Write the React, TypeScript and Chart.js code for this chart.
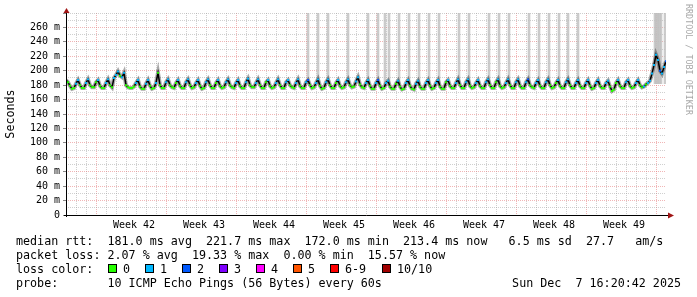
import React, { useEffect, useRef } from "react";
import { Chart, registerables } from "chart.js";

Chart.register(...registerables);

// ---- data ----
// median RTT in ms, one sample every 0.2 day (5 per day), day 0 .. day 60
const MEDIAN_MS: number[] = [
  187, 184, 179, 175, 176, 182, 187, 180, 176, 176, 183, 188, 180, 177, 177, 184, 187, 179, 176, 176,
  183, 188, 180, 177, 190, 194, 199, 193, 191, 197, 180, 177, 176, 176, 178, 183, 187, 178, 175, 175,
  182, 187, 179, 175, 176, 183, 197, 180, 176, 176, 184, 188, 180, 177, 176, 183, 187, 179, 176, 176,
  184, 188, 180, 176, 177, 183, 187, 179, 175, 176, 184, 188, 180, 176, 176, 183, 187, 179, 176, 177,
  184, 188, 180, 177, 176, 183, 187, 179, 176, 176, 184, 189, 180, 177, 177, 183, 188, 180, 176, 176,
  184, 187, 179, 176, 177, 183, 188, 180, 176, 176, 184, 187, 180, 177, 176, 183, 188, 179, 176, 176,
  184, 187, 180, 176, 177, 183, 188, 179, 175, 176, 184, 188, 180, 176, 176, 183, 187, 179, 176, 177,
  184, 188, 180, 177, 178, 185, 191, 181, 177, 176, 183, 187, 179, 175, 175, 183, 187, 179, 175, 176,
  183, 186, 178, 175, 175, 182, 186, 178, 174, 175, 183, 187, 179, 175, 174, 182, 186, 178, 175, 175,
  183, 187, 179, 175, 176, 183, 187, 178, 175, 175, 184, 187, 179, 176, 176, 183, 188, 180, 176, 176,
  184, 188, 179, 176, 177, 183, 187, 179, 176, 176, 184, 188, 180, 176, 176, 184, 188, 179, 176, 177,
  183, 188, 180, 176, 176, 184, 188, 179, 176, 176, 184, 188, 180, 177, 176, 183, 187, 179, 176, 176,
  184, 188, 180, 176, 177, 183, 187, 179, 176, 176, 184, 188, 180, 176, 176, 183, 187, 179, 176, 176,
  183, 187, 179, 175, 176, 183, 187, 179, 176, 176, 183, 186, 178, 172, 174, 183, 187, 179, 176, 176,
  184, 187, 179, 176, 177, 183, 187, 180, 177, 178, 181, 183, 186, 196, 208, 222, 215, 200, 196, 205,
  213,
];

// pings lost (of 10) for each median sample
const LOSS: number[] = [
  1, 0, 0, 0, 0, 1, 1, 0, 0, 0, 1, 1, 0, 0, 0, 0, 1, 0, 0, 0,
  1, 1, 0, 0, 1, 1, 1, 0, 1, 1, 0, 0, 0, 0, 0, 1, 1, 0, 0, 0,
  1, 1, 0, 0, 0, 1, 0, 0, 0, 0, 1, 1, 0, 0, 0, 0, 1, 0, 0, 0,
  1, 1, 0, 0, 0, 1, 1, 0, 0, 0, 1, 1, 0, 0, 0, 0, 1, 0, 0, 0,
  1, 1, 0, 0, 0, 1, 1, 0, 0, 0, 1, 1, 0, 0, 0, 1, 1, 0, 0, 0,
  0, 1, 0, 0, 0, 1, 1, 0, 0, 0, 1, 1, 0, 0, 0, 1, 1, 0, 0, 0,
  1, 2, 0, 0, 0, 1, 1, 0, 0, 0, 1, 1, 0, 0, 0, 0, 1, 0, 0, 0,
  1, 1, 0, 0, 0, 1, 1, 0, 0, 0, 1, 1, 0, 0, 0, 1, 2, 0, 0, 0,
  1, 1, 0, 0, 0, 0, 1, 0, 0, 0, 1, 1, 0, 0, 0, 1, 1, 0, 0, 0,
  1, 1, 0, 0, 0, 1, 1, 0, 0, 0, 0, 1, 0, 0, 0, 1, 1, 0, 0, 0,
  1, 1, 0, 0, 0, 1, 1, 0, 0, 0, 1, 1, 0, 0, 0, 0, 1, 0, 0, 0,
  1, 1, 0, 0, 0, 1, 1, 0, 0, 0, 1, 2, 0, 0, 0, 1, 1, 0, 0, 0,
  1, 1, 0, 0, 0, 0, 1, 0, 0, 0, 1, 1, 0, 0, 0, 1, 1, 0, 0, 0,
  1, 1, 0, 0, 0, 1, 1, 0, 0, 0, 1, 1, 0, 0, 0, 0, 1, 0, 0, 0,
  1, 1, 0, 0, 0, 1, 1, 0, 0, 1, 0, 1, 1, 1, 1, 1, 1, 2, 1, 1,
  2,
];

const SAMPLE_DAYS = 0.2;
const RANGE_DAYS = 60;

// days at which the max ping ran off the top of the chart
const SPIKE_DAYS: number[] = [
  24.2, 25.2, 26.2, 28.2, 30.2, 31.2, 31.9, 32.3, 33.3, 34.3, 35.3, 36.3, 37.3, 39.3, 40.3,
  42.3, 43.3, 44.3, 46.3, 47.3, 48.3, 49.3, 50.2, 51.2, 58.9, 59.05, 59.2, 59.35, 59.5, 59.9,
];
const SPIKE_FROM_MS = 182;

const Y_MAX_MS = 280;
const WEEK_LABELS = ["Week 42", "Week 43", "Week 44", "Week 45", "Week 46", "Week 47", "Week 48", "Week 49"];
const FIRST_DAY_LINE = 0.3; // first midnight after the left edge (days)
const FIRST_WEEK_LINE = 3.3; // first week boundary (days)

const LOSS_COLORS = ["#26ff00", "#00b8ff", "#0059ff", "#7e00ff", "#ff00ff", "#ff5500", "#ff0000", "#a10000"];
const LOSS_LABELS = ["0", "1", "2", "3", "4", "5", "6-9", "10/10"];

const RTT_LINE = "median rtt:  181.0 ms avg  221.7 ms max  172.0 ms min  213.4 ms now   6.5 ms sd  27.7   am/s";
const LOSS_LINE = "packet loss: 2.07 % avg  19.33 % max  0.00 % min  15.57 % now";
const COLOR_LINE = "loss color:";
const PROBE_LINE = "probe:       10 ICMP Echo Pings (56 Bytes) every 60s";
const DATE_TEXT = "Sun Dec  7 16:20:42 2025";
const Y_TITLE = "Seconds";
const WATERMARK = "RRDTOOL / TOBI OETIKER";

// ---- layout / style ----
const W = 697;
const H = 297;
const MONO = '"DejaVu Sans Mono", "Liberation Mono", monospace';
const MAJOR_GRID = "rgba(228,110,110,0.5)";
const MINOR_GRID = "rgba(150,150,150,0.45)";
const NONE = "rgba(0,0,0,0)";
const FLAT_MS = 2; // a median step this small is drawn as a coloured dash

const isInt = (v: number) => Math.abs(v - Math.round(v)) < 1e-6;
const tickVal = (c: any): number | undefined => (c && c.tick ? c.tick.value : undefined);

const decorPlugin = {
  id: "decor",
  beforeDraw(chart: any) {
    const ctx = chart.ctx;
    ctx.save();
    ctx.fillStyle = "#ffffff";
    ctx.fillRect(0, 0, chart.width, chart.height);
    ctx.restore();
  },
  afterDraw(chart: any) {
    const ctx: CanvasRenderingContext2D = chart.ctx;
    const { left, right, top, bottom } = chart.chartArea;
    ctx.save();
    // axes
    ctx.strokeStyle = "#000";
    ctx.lineWidth = 1;
    ctx.beginPath();
    ctx.moveTo(left + 0.5, bottom + 2);
    ctx.lineTo(left + 0.5, top);
    ctx.stroke();
    ctx.beginPath();
    ctx.moveTo(left - 2, bottom + 0.5);
    ctx.lineTo(right + 3, bottom + 0.5);
    ctx.stroke();
    // arrows
    ctx.fillStyle = "#a01515";
    ctx.beginPath();
    ctx.moveTo(left + 0.5, top - 5);
    ctx.lineTo(left - 2.5, top);
    ctx.lineTo(left + 3.5, top);
    ctx.closePath();
    ctx.fill();
    ctx.beginPath();
    ctx.moveTo(right + 8, bottom + 0.5);
    ctx.lineTo(right + 2, bottom - 2.5);
    ctx.lineTo(right + 2, bottom + 3.5);
    ctx.closePath();
    ctx.fill();

    // y title
    ctx.fillStyle = "#000";
    ctx.font = `11.7px ${MONO}`;
    ctx.save();
    ctx.translate(11, 114);
    ctx.rotate(-Math.PI / 2);
    ctx.textAlign = "center";
    ctx.textBaseline = "middle";
    ctx.fillText(Y_TITLE, 0, 0);
    ctx.restore();

    // watermark
    ctx.save();
    ctx.fillStyle = "#a8a8a8";
    ctx.font = `8.4px ${MONO}`;
    ctx.translate(688, 4);
    ctx.rotate(Math.PI / 2);
    ctx.textAlign = "left";
    ctx.textBaseline = "middle";
    ctx.fillText(WATERMARK, 0, 0);
    ctx.restore();

    // legend
    ctx.fillStyle = "#000";
    ctx.textAlign = "left";
    ctx.textBaseline = "alphabetic";
    ctx.font = `11.7px ${MONO}`;
    ctx.fillText(RTT_LINE, 16, 245);
    ctx.fillText(LOSS_LINE, 16, 259);
    ctx.fillText(COLOR_LINE, 16, 273);
    const boxX = [108, 145, 182, 219, 256, 293, 330, 382];
    LOSS_COLORS.forEach((c, i) => {
      const x = boxX[i];
      ctx.fillStyle = c;
      ctx.fillRect(x, 264, 9, 9);
      ctx.strokeStyle = "#000";
      ctx.lineWidth = 1;
      ctx.strokeRect(x + 0.5, 264.5, 8, 8);
      ctx.fillStyle = "#000";
      ctx.fillText(LOSS_LABELS[i], x + 15, 273);
    });
    ctx.fillText(PROBE_LINE, 16, 287);
    ctx.textAlign = "right";
    ctx.fillText(DATE_TEXT, 681, 287);
    ctx.restore();
  },
};

export default function App() {
  const ref = useRef<HTMLCanvasElement>(null);

  useEffect(() => {
    document.body.style.margin = "0";
    const canvas = ref.current!;
    const points = MEDIAN_MS.map((v, i) => ({ x: i * SAMPLE_DAYS, y: v }));
    const spikes = SPIKE_DAYS.map((d) => ({ x: d, y: [SPIKE_FROM_MS, Y_MAX_MS] }));

    const xTicks: number[] = [];
    for (let v = FIRST_DAY_LINE; v < RANGE_DAYS; v += 0.5) xTicks.push(Math.round(v * 10) / 10);
    const yTicks: number[] = [];
    for (let v = 0; v <= Y_MAX_MS; v += 10) yTicks.push(v);

    const lossColor = (l: number) => LOSS_COLORS[Math.min(l, LOSS_COLORS.length - 1)];

    const chart = new Chart(canvas, {
      type: "line",
      data: {
        datasets: [
          {
            type: "bar",
            data: spikes as any,
            backgroundColor: "rgba(190,190,190,0.8)",
            barThickness: 2,
            order: 4,
          } as any,
          {
            type: "line",
            data: points,
            borderColor: "rgba(40,40,40,0.4)",
            borderWidth: 4,
            pointRadius: 0,
            order: 3,
          },
          {
            type: "line",
            data: points,
            borderWidth: 1.5,
            borderColor: "#000",
            segment: {
              borderColor: (c: any) => {
                const a = c.p0DataIndex;
                const b = c.p1DataIndex;
                const flat = Math.abs(MEDIAN_MS[b] - MEDIAN_MS[a]) <= FLAT_MS;
                return flat && LOSS[a] === LOSS[b] ? lossColor(LOSS[b]) : "#000";
              },
            },
            pointStyle: "rect",
            pointRadius: 1.4,
            pointBorderWidth: 0,
            pointBackgroundColor: LOSS.map(lossColor),
            order: 1,
          },
        ],
      },
      options: {
        animation: false,
        responsive: false,
        devicePixelRatio: 1,
        events: [],
        layout: { padding: { left: 0, top: 13, right: 31, bottom: 0 }, autoPadding: false },
        plugins: { legend: { display: false }, tooltip: { enabled: false }, title: { display: false } },
        scales: {
          x: {
            type: "linear",
            min: 0,
            max: RANGE_DAYS,
            offset: false,
            afterBuildTicks: (s: any) => {
              s.ticks = xTicks.map((v) => ({ value: v }));
            },
            afterFit: (s: any) => {
              s.height = H - 215;
            },
            grid: {
              drawTicks: false,
              lineWidth: 1,
              color: (c: any) => {
                const v = tickVal(c);
                if (v === undefined) return NONE;
                const d = v - FIRST_DAY_LINE;
                if (!isInt(d)) return NONE;
                return isInt((v - FIRST_WEEK_LINE) / 7) ? MAJOR_GRID : MINOR_GRID;
              },
            },
            border: { display: false, dash: [1, 1] },
            ticks: {
              autoSkip: false,
              maxRotation: 0,
              minRotation: 0,
              padding: 4,
              color: "#000",
              font: { family: MONO, size: 10 },
              callback: (v: any) => {
                const n = (Number(v) - FIRST_WEEK_LINE - 3.5) / 7;
                if (isInt(n) && Math.round(n) >= 0 && Math.round(n) < WEEK_LABELS.length) return WEEK_LABELS[Math.round(n)];
                return "";
              },
            },
          },
          y: {
            type: "linear",
            min: 0,
            max: Y_MAX_MS,
            afterBuildTicks: (s: any) => {
              s.ticks = yTicks.map((v) => ({ value: v }));
            },
            afterFit: (s: any) => {
              s.width = 66;
            },
            grid: {
              drawTicks: true,
              tickLength: 3,
              lineWidth: 1,
              color: (c: any) => {
                const v = tickVal(c);
                if (v === undefined) return NONE;
                return v % 20 === 0 && v < Y_MAX_MS ? MAJOR_GRID : MINOR_GRID;
              },
              tickColor: (c: any) => {
                const v = tickVal(c);
                return v !== undefined && v % 20 === 0 ? "#888" : NONE;
              },
            },
            border: { display: false, dash: [1, 1] },
            ticks: {
              autoSkip: false,
              padding: 3,
              color: "#000",
              font: { family: MONO, size: 10 },
              callback: (v: any) => {
                const n = Number(v);
                if (n % 20 !== 0 || n >= Y_MAX_MS) return "";
                return n === 0 ? "0" : `${n} m`;
              },
            },
          },
        },
      } as any,
      plugins: [decorPlugin],
    });
    return () => chart.destroy();
  }, []);

  return (
    <div style={{ position: "absolute", left: 0, top: 0, width: W, height: H, background: "#fff" }}>
      <canvas ref={ref} width={W} height={H} style={{ display: "block", width: W, height: H }} />
    </div>
  );
}
